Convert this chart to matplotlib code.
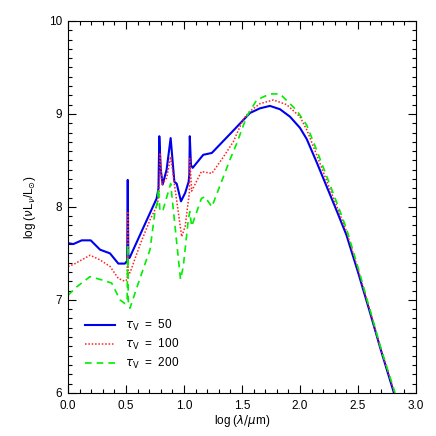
import matplotlib.pyplot as plt
from matplotlib.ticker import MultipleLocator

plt.rcParams['font.family'] = ['Liberation Sans', 'DejaVu Sans']
plt.rcParams['mathtext.fontset'] = 'dejavusans'

# log(lambda/um) and log(nu L_nu / L_sun)
x_50 = [0.0, 0.046, 0.118, 0.196, 0.276, 0.362, 0.434, 0.49, 0.51, 0.515, 0.52, 0.53, 0.764, 0.78, 0.787,
        0.80, 0.816, 0.85, 0.885, 0.917, 0.937, 0.974, 1.01, 1.04, 1.046, 1.05, 1.06, 1.075, 1.166, 1.24,
        1.44, 1.569, 1.655, 1.741, 1.828, 1.914, 2.0, 2.058, 2.144, 2.23, 2.316, 2.40, 2.5, 2.6, 2.7, 2.81]
y_50 = [7.61, 7.60, 7.64, 7.64, 7.54, 7.50, 7.39, 7.39, 7.42, 8.29, 7.46, 7.45, 8.09, 8.20, 8.76,
        8.40, 8.24, 8.40, 8.74, 8.27, 8.25, 8.06, 8.15, 8.27, 8.35, 8.76, 8.45, 8.42, 8.56, 8.58,
        8.84, 9.01, 9.06, 9.086, 9.05, 8.97, 8.85, 8.73, 8.48, 8.22, 7.96, 7.70, 7.30, 6.88, 6.45, 6.00]

x_100 = [0.0, 0.046, 0.19, 0.276, 0.362, 0.434, 0.49, 0.51, 0.515, 0.52, 0.534, 0.62, 0.707, 0.77, 0.785,
         0.793, 0.81, 0.85, 0.885, 0.908, 0.98, 1.01, 1.046, 1.05, 1.066, 1.15, 1.24, 1.325, 1.425, 1.51,
         1.569, 1.655, 1.77, 1.885, 2.0, 2.058, 2.144, 2.23, 2.316, 2.40, 2.5, 2.6, 2.7, 2.815]
y_100 = [7.36, 7.38, 7.48, 7.43, 7.36, 7.23, 7.20, 7.22, 7.95, 7.30, 7.29, 7.59, 7.86, 8.02, 8.15,
         8.58, 8.24, 8.31, 8.54, 8.33, 7.68, 7.79, 8.15, 8.52, 8.17, 8.38, 8.36, 8.51, 8.70, 8.94,
         9.03, 9.11, 9.15, 9.10, 8.97, 8.83, 8.56, 8.28, 8.01, 7.74, 7.33, 6.90, 6.46, 6.00]

x_200 = [0.0, 0.075, 0.19, 0.304, 0.377, 0.448, 0.49, 0.51, 0.515, 0.52, 0.534, 0.62, 0.707, 0.75, 0.77,
         0.78, 0.793, 0.82, 0.885, 0.908, 0.97, 0.994, 1.037, 1.05, 1.066, 1.15, 1.18, 1.24, 1.397, 1.454,
         1.54, 1.627, 1.74, 1.828, 1.97, 2.058, 2.144, 2.23, 2.316, 2.40, 2.5, 2.6, 2.7, 2.82]
y_200 = [7.05, 7.14, 7.25, 7.21, 7.18, 7.00, 6.96, 6.98, 7.59, 6.95, 6.91, 7.23, 7.54, 7.95, 8.05,
         8.20, 7.95, 7.97, 8.25, 7.97, 7.22, 7.36, 7.86, 7.95, 7.79, 8.09, 8.11, 8.00, 8.51, 8.68,
         8.97, 9.15, 9.215, 9.215, 9.04, 8.88, 8.61, 8.33, 8.05, 7.77, 7.35, 6.91, 6.47, 6.00]

fig = plt.figure(figsize=(4.36, 4.36), dpi=100)
ax = fig.add_axes([0.156, 0.099, 0.798, 0.853])

ax.plot(x_50, y_50, color='#0000ee', lw=1.5, label=r'$\tau_{\rm V}$  =  50')
ax.plot(x_100, y_100, color='#ff2020', lw=1.1, ls=(0, (1, 1.2)), label=r'$\tau_{\rm V}$  =  100')
ax.plot(x_200, y_200, color='#00ee00', lw=1.2, ls=(0, (4, 3)), label=r'$\tau_{\rm V}$  =  200')

ax.set_xlim(0, 3)
ax.set_ylim(6, 10)
ax.xaxis.set_major_locator(MultipleLocator(0.5))
ax.xaxis.set_minor_locator(MultipleLocator(0.1))
ax.yaxis.set_major_locator(MultipleLocator(1))
ax.yaxis.set_minor_locator(MultipleLocator(0.1))
ax.xaxis.set_major_formatter(plt.FormatStrFormatter('%.1f'))
ax.tick_params(which='both', direction='in', top=True, right=True, labelsize=8.5, width=0.8)
ax.tick_params(which='major', length=6)
ax.tick_params(which='minor', length=3)
ax.tick_params(axis='x', pad=5)
ax.tick_params(axis='y', pad=4)

ax.set_xlabel(r'log ($\lambda/\mu$m)', fontsize=8.5, labelpad=1)
ax.set_ylabel(r'log ($\nu$L$_\nu$/L$_{\odot}$)', fontsize=8.5, labelpad=8)

ax.legend(loc='lower left', bbox_to_anchor=(0.049, 0.058), frameon=False, fontsize=8.5,
          borderpad=0, borderaxespad=0, handlelength=2.5, handletextpad=0.85, labelspacing=0.35)

fig.savefig('out.png', dpi=100)
